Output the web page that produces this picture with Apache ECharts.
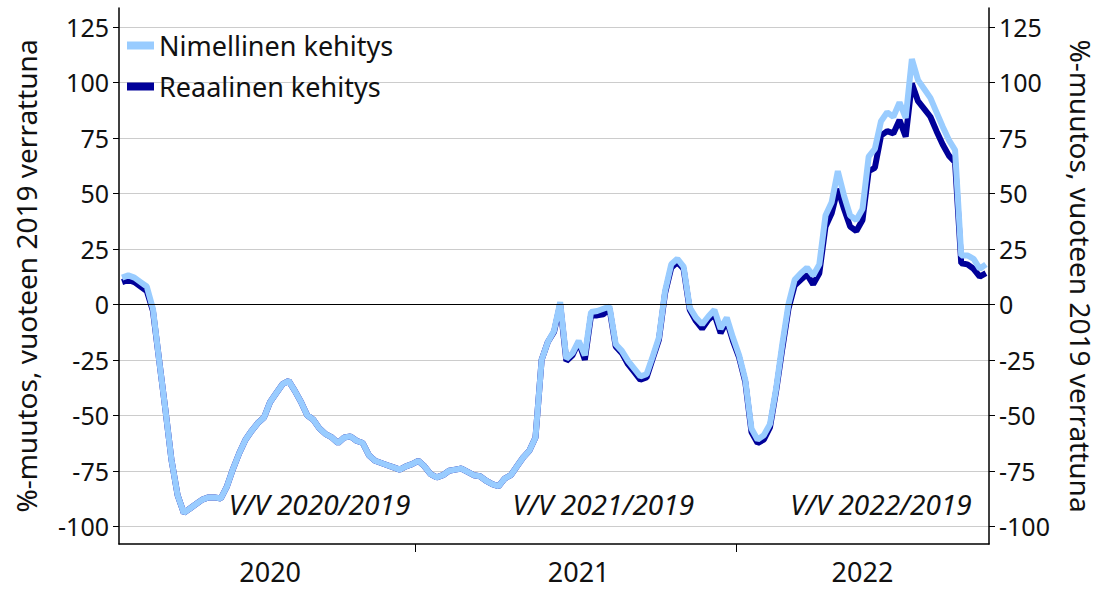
<!DOCTYPE html>
<html>
<head>
<meta charset="utf-8">
<script src="https://cdn.jsdelivr.net/npm/echarts@6/dist/echarts.min.js"></script>
<style>
html,body{margin:0;padding:0;background:#fff;}
#chart{width:1103px;height:589px;}
</style>
</head>
<body>
<div id="chart"></div>
<script>
// ---- data ----
const years = ['2020', '2021', '2022'];
const weeksPerYear = [48, 52, 41];
const firstWeek = [6, 1, 1];

const nominal = [
  12, 13, 12, 10, 8, -2, -25, -47, -70, -86,
  -94, -92, -90, -88, -87, -87, -87.5, -82, -74, -67,
  -61, -57, -53.5, -51, -44, -40, -36, -34.5, -39, -44,
  -50, -52, -56, -58.5, -60, -62.5, -60, -59.5, -61.5, -62.5,
  -68, -70.5, -71.5, -72.5, -73.5, -74.5, -73, -72,
  -70.5, -73, -76.5, -78, -77, -75, -74.5, -74, -75.5, -77,
  -77.5, -79.5, -81, -82, -78.5, -77, -73, -69, -66, -60,
  -25, -17, -12, 1, -24.5, -22, -16.5, -23, -3.5, -3,
  -2, -1, -18, -21, -25.5, -29, -32.5, -31.5, -23.5, -15,
  6, 18, 20.5, 17, -1.5, -6, -9, -5.5, -2.5, -11,
  -6, -15,
  -23, -34, -56, -61, -59, -54, -38, -18, 0, 11,
  14, 16.5, 13, 18, 40, 46, 60, 49, 40, 38,
  43, 66.5, 70, 82.5, 86.5, 84.5, 91, 84, 110.5, 101,
  97, 93, 86.5, 80, 74, 69.5, 22, 22, 20.5, 16,
  18
];

const real = [
  10, 11, 10, 8, 6, -3, -25, -47, -70, -86,
  -94, -92, -90, -88, -87, -87, -87.5, -82, -74, -67,
  -61, -57, -53.5, -51, -44, -40, -36, -34.5, -39, -44,
  -50, -52, -56, -58.5, -60, -62.5, -60, -59.5, -61.5, -62.5,
  -68, -70.5, -71.5, -72.5, -73.5, -74.5, -73, -72,
  -70.5, -73, -76.5, -78, -77, -75, -74.5, -74, -75.5, -77,
  -77.5, -79.5, -81, -82, -78.5, -77, -73, -69, -66, -60,
  -25, -17, -12.5, 0, -25.5, -23, -17, -25, -5, -5,
  -4.5, -2, -19, -22, -27, -30.5, -34, -33, -24.5, -16,
  5, 16.5, 19, 16, -2.5, -7.5, -11, -7, -4.5, -13,
  -7.5, -16.5,
  -24, -35, -57.5, -62.5, -61, -55.5, -39, -20, -2, 8.5,
  11, 13.5, 9, 14, 35, 41, 52, 43, 35, 33,
  38, 60, 61.5, 76, 78, 77, 83, 75.5, 99.5, 91.5,
  88, 84.5, 78, 72, 67, 64, 18.5, 18, 16, 12.5,
  14
];

const yTicks = [-100, -75, -50, -25, 0, 25, 50, 75, 100, 125];
const seriesNames = ['Nimellinen kehitys', 'Reaalinen kehitys'];
const axisName = '%-muutos, vuoteen 2019 verrattuna';
const periodLabels = ['V/V 2020/2019', 'V/V 2021/2019', 'V/V 2022/2019'];

// ---- derived ----
const categories = [];
const yearStart = [];
const yearMid = [];
years.forEach((y, k) => {
  yearStart.push(categories.length);
  yearMid.push(categories.length + Math.floor(weeksPerYear[k] / 2));
  for (let w = 0; w < weeksPerYear[k]; w++) {
    categories.push(y + '-W' + String(firstWeek[k] + w).padStart(2, '0'));
  }
});
const yearBoundaries = yearStart.slice(1);

const FONT = 'Noto Sans';
const LIGHT = '#99ccff';
const DARK = '#000099';
const TXT = '#111';

const annotIdx = [32, 78, 123];

function yAxisDef(pos) {
  return {
    type: 'value',
    position: pos,
    min: -108,
    max: 133.5,
    minInterval: 25,
    maxInterval: 25,
    name: axisName,
    nameLocation: 'middle',
    nameRotate: pos === 'left' ? 90 : -90,
    nameGap: pos === 'left' ? 79 : 78,
    nameTextStyle: { fontFamily: FONT, fontSize: 28, color: TXT },
    axisLine: { show: true, lineStyle: { color: '#000', width: 1.5 } },
    axisTick: { show: true, length: 6, customValues: yTicks, lineStyle: { color: '#000', width: 1 } },
    axisLabel: {
      fontFamily: FONT, fontSize: 25, color: TXT, margin: 10,
      customValues: yTicks,
      formatter: v => (yTicks.indexOf(v) >= 0 ? String(v) : '')
    },
    splitLine: pos === 'left'
      ? { show: true, lineStyle: { color: '#cccccc', width: 1 } }
      : { show: false }
  };
}

const chart = echarts.init(document.getElementById('chart'), null, { renderer: 'svg' });
chart.setOption({
  animation: false,
  backgroundColor: '#ffffff',
  textStyle: { fontFamily: FONT },
  grid: { left: 119, right: 108, top: 8, bottom: 45 },
  legend: {
    data: seriesNames,
    orient: 'vertical',
    left: 122,
    top: 27,
    icon: 'rect',
    itemWidth: 27,
    itemHeight: 8,
    itemGap: 14,
    textStyle: { fontFamily: FONT, fontSize: 27, color: TXT }
  },
  xAxis: [
    {
      type: 'category',
      data: categories,
      boundaryGap: true,
      axisLine: { show: true, onZero: false, lineStyle: { color: '#000', width: 1.5 } },
      axisTick: { show: false },
      axisLabel: {
        interval: (i) => yearMid.indexOf(i) >= 0,
        formatter: (v) => v.slice(0, 4),
        fontFamily: FONT, fontSize: 27, color: TXT, margin: 14
      },
      splitLine: { show: false }
    },
    {
      type: 'value',
      position: 'bottom',
      min: 0,
      max: categories.length,
      axisLine: { show: false, onZero: false },
      axisTick: { show: true, length: 8, customValues: yearBoundaries, lineStyle: { color: '#000', width: 1 } },
      axisLabel: { show: false },
      splitLine: { show: false }
    }
  ],
  yAxis: [yAxisDef('left'), yAxisDef('right')],
  series: [
    {
      name: 'zero',
      type: 'line',
      data: [],
      z: 1,
      silent: true,
      markLine: {
        silent: true,
        symbol: 'none',
        label: { show: false },
        lineStyle: { color: '#000', width: 1, type: 'solid' },
        data: [{ yAxis: 0 }]
      },
      markPoint: {
        silent: true,
        symbol: 'circle',
        symbolSize: 0,
        label: {
          show: true, position: 'inside',
          fontFamily: FONT, fontStyle: 'italic', fontSize: 28, color: TXT,
          formatter: p => p.name
        },
        data: periodLabels.map((t, k) => ({ name: t, coord: [categories[annotIdx[k]], -90] }))
      }
    },
    {
      name: seriesNames[1],
      type: 'line',
      data: real,
      z: 2,
      showSymbol: false,
      symbol: 'none',
      color: DARK,
      lineStyle: { color: DARK, width: 6 },
      itemStyle: { color: DARK }
    },
    {
      name: seriesNames[0],
      type: 'line',
      data: nominal,
      z: 3,
      showSymbol: false,
      symbol: 'none',
      color: LIGHT,
      lineStyle: { color: LIGHT, width: 6 },
      itemStyle: { color: LIGHT }
    }
  ]
});
</script>
</body>
</html>
